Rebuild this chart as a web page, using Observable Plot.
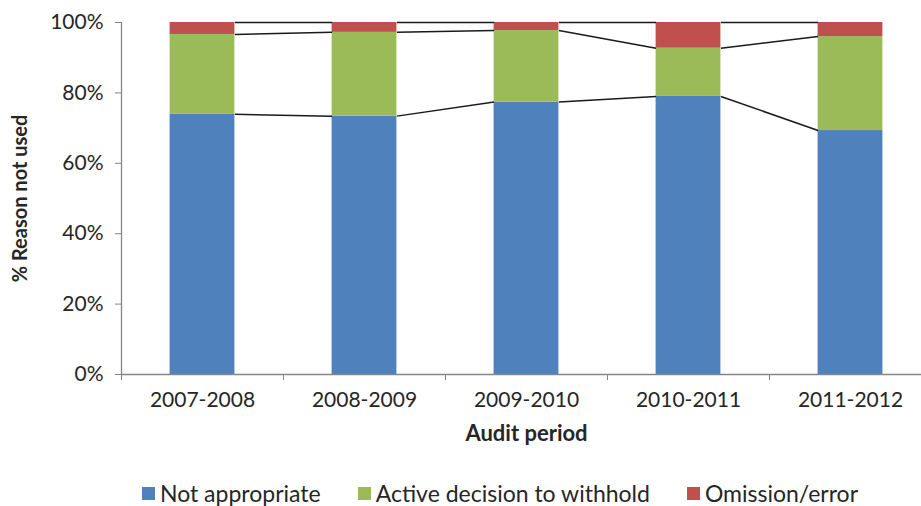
<!DOCTYPE html>
<html>
<head>
<meta charset="utf-8">
<script src="https://cdn.jsdelivr.net/npm/d3@7"></script>
<script src="https://cdn.jsdelivr.net/npm/@observablehq/plot@0.6"></script>
<style>
  body { margin: 0; background: #fff; font-family: Lato, "Open Sans", sans-serif; }
  #chart svg { display: block; }
  #legend { display: flex; justify-content: center; align-items: center; height: 46px; font-size: 23px; color: #262626; gap: 37px; padding-left: 79px; }
  .item { display: flex; align-items: center; }
  .sw { width: 13px; height: 13px; margin-right: 5px; }
</style>
</head>
<body>
<div id="chart"></div>
<div id="legend"></div>
<script>
const periods = ["2007-2008", "2008-2009", "2009-2010", "2010-2011", "2011-2012"];
const series = ["Not appropriate", "Active decision to withhold", "Omission/error"];
const notAppropriate = [0.739, 0.734, 0.774, 0.790, 0.693];
const activeDecision = [0.227, 0.238, 0.203, 0.137, 0.267];
const omissionError  = [0.034, 0.028, 0.023, 0.073, 0.040];
const colors = ["#4F81BD", "#9BBB59", "#C0504D"];

const values = [notAppropriate, activeDecision, omissionError];
const rows = [];
periods.forEach((p, i) => {
  let base = 0;
  series.forEach((s, k) => {
    const v = values[k][i];
    rows.push({i, period: p, series: s, y1: base, y2: base + v});
    base += v;
  });
});
const links = [];
for (let i = 0; i < periods.length - 1; i++) {
  for (let k = 0; k < series.length; k++) {
    const a = rows.find(r => r.i === i && r.series === series[k]);
    const b = rows.find(r => r.i === i + 1 && r.series === series[k]);
    links.push({x1: i + 0.2, x2: i + 0.8, y1: k === 2 ? 1 : a.y2, y2: k === 2 ? 1 : b.y2});
  }
}
const idx = periods.map((_, i) => i);
const bounds = d3.range(-0.5, periods.length, 1);

const chart = Plot.plot({
  width: 921,
  height: 470,
  marginTop: 22,
  marginBottom: 96,
  marginLeft: 121,
  marginRight: -10,
  style: {fontFamily: "Lato, 'Open Sans', sans-serif", fontSize: "21px", color: "#262626", overflow: "visible"},
  x: {domain: [-0.5, periods.length - 0.5], axis: null},
  y: {domain: [0, 1], axis: null},
  marks: [
    Plot.rectY(rows, {x1: d => d.i - 0.2, x2: d => d.i + 0.2, y1: "y1", y2: "y2",
      fill: d => colors[series.indexOf(d.series)]}),
    Plot.link(links, {x1: "x1", x2: "x2", y1: "y1", y2: "y2", stroke: "#1a1a1a", strokeWidth: 1.5}),
    Plot.ruleX([-0.5], {y1: 0, y2: 1, stroke: "#868686", strokeWidth: 1.3}),
    Plot.ruleY([0], {x1: -0.5, x2: periods.length - 0.5, stroke: "#868686", strokeWidth: 1.3}),
    Plot.axisY({ticks: [0, 0.2, 0.4, 0.6, 0.8, 1], tickFormat: d3.format(".0%"), tickSize: 6, tickPadding: 12,
      stroke: "#868686", fill: "#262626", label: null, fontSize: 21}),
    Plot.axisX({ticks: bounds, tickFormat: () => "", tickSize: 6, stroke: "#868686", label: null}),
    Plot.axisX({ticks: idx, tickFormat: i => periods[i], tickSize: 0, tickPadding: 18, fill: "#262626", label: null, fontSize: 21}),
    Plot.text(["Audit period"], {frameAnchor: "bottom", dy: 66, fontWeight: "bold", fontSize: 22, fill: "#262626"}),
    Plot.text(["% Reason not used"], {frameAnchor: "left", textAnchor: "middle", dx: -101, rotate: -90, fontWeight: "bold", fontSize: 20, fill: "#262626"})
  ]
});
document.getElementById("chart").appendChild(chart);

const legend = document.getElementById("legend");
series.forEach((s, k) => {
  const it = document.createElement("div");
  it.className = "item";
  const sw = document.createElement("span");
  sw.className = "sw";
  sw.style.background = colors[k];
  it.appendChild(sw);
  it.appendChild(document.createTextNode(s));
  legend.appendChild(it);
});
</script>
</body>
</html>
